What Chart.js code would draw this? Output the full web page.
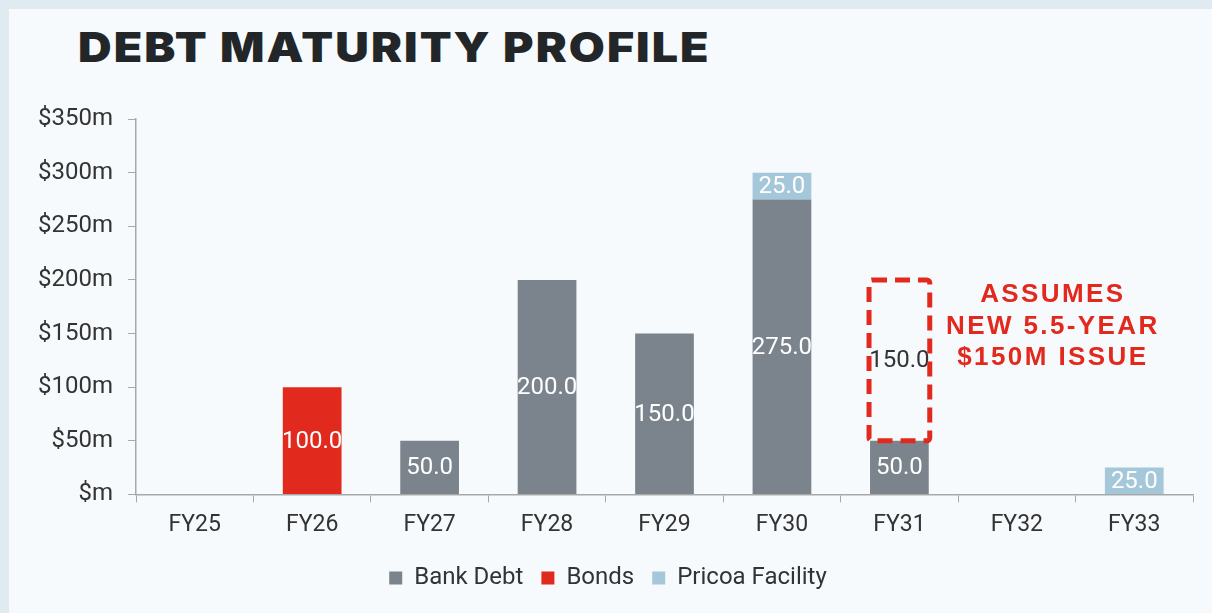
<!DOCTYPE html>
<html>
<head>
<meta charset="utf-8">
<script src="https://cdn.jsdelivr.net/npm/chart.js@4.4.1/dist/chart.umd.min.js"></script>
<style>
    html, body { margin: 0; padding: 0; }
    body { width: 1212px; height: 613px; background: #e0eaf1; position: relative; overflow: hidden; }
    .panel { position: absolute; left: 9px; top: 9px; right: 0; bottom: 0; background: #f6fafc; }
    .title {
        position: absolute; left: 78px; top: 22px;
        font-family: Inter, 'Liberation Sans', sans-serif; font-weight: 900;
        font-size: 41px; color: #222628; letter-spacing: 1.8px; white-space: nowrap;
        transform: scaleX(1.135); transform-origin: left top;
    }
    .chart-wrap { position: absolute; left: 0; top: 0; width: 1212px; height: 613px; }
</style>
</head>
<body>
<div class="panel"></div>
<div class="title">DEBT MATURITY PROFILE</div>
<div class="chart-wrap"><canvas id="debtChart"></canvas></div>
<script>
// Values in $m
const years = ['FY25', 'FY26', 'FY27', 'FY28', 'FY29', 'FY30', 'FY31', 'FY32', 'FY33'];
const bankDebt = [0, 0, 50, 200, 150, 275, 50, 0, 0];
const bonds = [0, 100, 0, 0, 0, 0, 0, 0, 0];
const pricoa = [0, 0, 0, 0, 0, 25, 0, 0, 25];
const newIssue = [0, 0, 0, 0, 0, 0, 150, 0, 0];
const yTicks = [0, 50, 100, 150, 200, 250, 300, 350];
const noteLines = ['ASSUMES', 'NEW 5.5-YEAR', '$150M ISSUE'];

const RED = '#e2291e';
const axisGrey = '#a8a8a8';

// Value labels in the middle of each bar segment
const barLabels = {
    id: 'barLabels',
    afterDatasetsDraw(chart) {
        const ctx = chart.ctx;
        ctx.save();
        ctx.font = '24px Roboto';
        ctx.textAlign = 'center';
        ctx.textBaseline = 'middle';
        chart.data.datasets.forEach((ds, i) => {
            const meta = chart.getDatasetMeta(i);
            meta.data.forEach((bar, j) => {
                const v = ds.data[j];
                if (!v) return;
                ctx.fillStyle = ds.labelColor || '#ffffff';
                ctx.fillText(v.toFixed(1), bar.x, (bar.y + bar.base) / 2 + 1);
            });
        });
        ctx.restore();
    }
};

// Dashed outline for the assumed new issue + note text
const newIssueBox = {
    id: 'newIssueBox',
    afterDatasetsDraw(chart) {
        const ctx = chart.ctx;
        chart.data.datasets.forEach((ds, i) => {
            if (!ds.dashed) return;
            const meta = chart.getDatasetMeta(i);
            meta.data.forEach((bar, j) => {
                if (!ds.data[j]) return;
                const half = bar.width / 2;
                ctx.save();
                ctx.strokeStyle = RED;
                ctx.lineWidth = 5;
                ctx.setLineDash([15, 8]);
                ctx.beginPath();
                ctx.roundRect(bar.x - half - 1, bar.y, bar.width + 2, bar.base - bar.y, 3);
                ctx.stroke();
                ctx.restore();
            });
        });
        // note next to FY31
        const x = chart.scales.x.getPixelForValue(7) + 36;
        const y0 = chart.scales.y.getPixelForValue(186);
        ctx.save();
        ctx.fillStyle = RED;
        ctx.font = 'bold 26px "Liberation Sans", Arial, sans-serif';
        ctx.letterSpacing = '2.4px';
        ctx.textAlign = 'center';
        ctx.textBaseline = 'middle';
        noteLines.forEach((t, k) => ctx.fillText(t, x, y0 + k * 31.5));
        ctx.restore();
    }
};

new Chart(document.getElementById('debtChart'), {
    type: 'bar',
    data: {
        labels: years,
        datasets: [{
            label: 'Bank Debt',
            data: bankDebt,
            backgroundColor: '#7b848c'
        }, {
            label: 'Bonds',
            data: bonds,
            backgroundColor: RED
        }, {
            label: 'Pricoa Facility',
            data: pricoa,
            backgroundColor: '#a4c7da'
        }, {
            label: 'New Issue',
            data: newIssue,
            backgroundColor: 'rgba(0,0,0,0)',
            labelColor: '#333333',
            dashed: true
        }]
    },
    options: {
        responsive: true,
        maintainAspectRatio: false,
        animation: false,
        barPercentage: 0.5,
        categoryPercentage: 1,
        layout: {
            padding: { top: 119, left: 23, right: 19, bottom: 13 }
        },
        plugins: {
            legend: {
                position: 'bottom',
                labels: {
                    filter: item => item.text !== 'New Issue',
                    boxWidth: 13,
                    boxHeight: 13,
                    padding: 18,
                    color: '#333333',
                    font: { family: 'Roboto', size: 24 }
                }
            },
            tooltip: { enabled: false }
        },
        scales: {
            x: {
                stacked: true,
                grid: { drawOnChartArea: false, tickLength: 8, color: axisGrey },
                border: { color: axisGrey, width: 1.5 },
                ticks: { color: '#333333', padding: 9, font: { family: 'Roboto', size: 23 } }
            },
            y: {
                stacked: true,
                min: 0,
                max: 350,
                afterBuildTicks: axis => { axis.ticks = yTicks.map(v => ({ value: v })); },
                grid: { drawOnChartArea: false, tickLength: 8, color: axisGrey },
                border: { color: axisGrey, width: 1.5 },
                ticks: {
                    color: '#333333',
                    padding: 15,
                    font: { family: 'Roboto', size: 24 },
                    callback: v => v === 0 ? '$m' : '$' + v + 'm'
                }
            }
        }
    },
    plugins: [barLabels, newIssueBox]
});
</script>
</body>
</html>
